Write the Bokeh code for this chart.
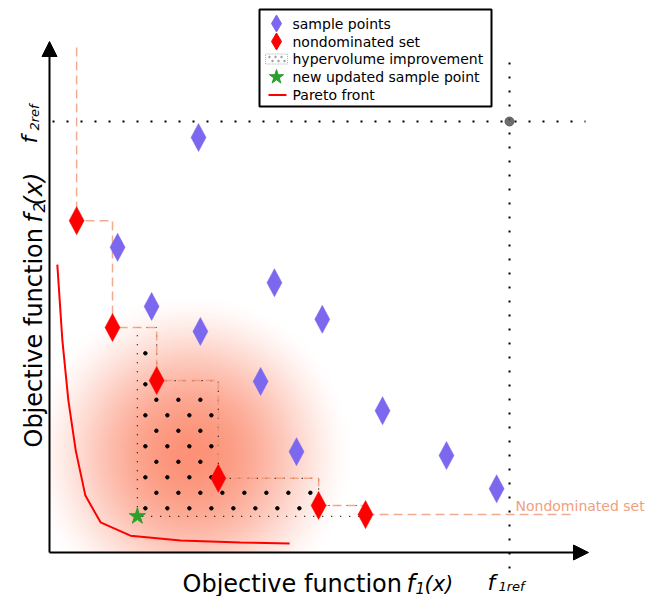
import math
import numpy as np
from bokeh.plotting import figure
from bokeh.models import Range1d, Label, Arrow, NormalHead
from bokeh.embed import file_html
from bokeh.resources import INLINE

# ---------------- data (schematic units: reference point f1ref = f2ref = 10) ----------------
sample_f1 = [3.24, 1.48, 2.22, 3.28, 4.89, 5.93, 4.59, 5.37, 7.24, 8.63, 9.72]
sample_f2 = [9.63, 7.08, 5.71, 5.13, 6.26, 5.41, 3.97, 2.34, 3.29, 2.25, 1.48]
nd_f1 = [0.59, 1.37, 2.33, 3.67, 5.85, 6.87]
nd_f2 = [7.70, 5.22, 3.99, 1.72, 1.09, 0.88]
new_f1 = [1.91]
new_f2 = [0.84]
pareto_f1 = [0.17, 0.28, 0.41, 0.57, 0.78, 1.11, 1.76, 2.85, 4.15, 5.22]
pareto_f2 = [6.68, 4.92, 3.53, 2.37, 1.32, 0.70, 0.39, 0.28, 0.23, 0.21]
f1_ref = 10.0
f2_ref = 10.0
glow_f1 = 3.08   # centre of the improvement-probability glow
glow_f2 = 2.25
legend_labels = ["sample points", "nondominated set", "hypervolume improvement",
                 "new updated sample point", "Pareto front"]

# ---------------- layout helpers (pixel -> data units) ----------------
SX, SY = 46.0, 43.1
def X(rx):
    return (rx - 49) / SX

def Y(ry):
    return (552 - ry) / SY

FONT = "DejaVu Sans"
SALMON = "#ef9676"

p = figure(width=656, height=596, x_range=Range1d(X(0), X(656)), y_range=Range1d(Y(596), Y(0)),
           x_axis_type=None, y_axis_type=None, toolbar_location=None, output_backend="svg",
           min_border=0)
p.grid.visible = False
p.outline_line_color = None

# ---------------- glow (radial gradient, clipped at the axes) ----------------
gw, gh = 380, 360                      # pixels covered by the gradient image
R = 165.0
PX, PY = np.meshgrid(np.arange(gw) + 0.5, np.arange(gh) + 0.5)
cx, cy = glow_f1 * SX, glow_f2 * SY
d = np.sqrt((PX - cx) ** 2 + (PY - cy) ** 2)
alpha = 0.7 * np.clip(1 - (d / R) ** 2, 0, 1) ** 1.8
img = np.zeros((gh, gw), dtype=np.uint32)
view = img.view(dtype=np.uint8).reshape((gh, gw, 4))
view[:, :, 0] = 250
view[:, :, 1] = 98
view[:, :, 2] = 60
view[:, :, 3] = np.clip(alpha * 255, 0, 255).astype(np.uint8)
p.image_rgba(image=[img], x=0, y=0, dw=gw / SX, dh=gh / SY)

# ---------------- Pareto front ----------------
p.line(pareto_f1, pareto_f2, line_color="red", line_width=2)

# ---------------- hypervolume improvement region ----------------
sx, sy = new_f1[0], new_f2[0]
prev_y = None
for xi, yi in zip(nd_f1, nd_f2):
    if xi <= sx:
        prev_y = yi
hv_x = [sx, sx]
hv_y = [sy, prev_y]
upper = [(sx, prev_y)]
for xi, yi in zip(nd_f1, nd_f2):
    if xi > sx:
        hv_x += [xi, xi]
        hv_y += [prev_y, yi]
        upper.append((xi, yi))
        prev_y = yi
hv_x.append(nd_f1[-1])
hv_y.append(sy)
p.patch(hv_x, hv_y, fill_alpha=0, line_color="black", line_width=1.2, line_dash="1 8")

# dotted hatch texture of the region (staggered dots)
def upper_at(x):
    u = None
    for ux, uy in upper:
        if x >= ux:
            u = uy
    return u

def hatch_dots(x0, y0, x1, ytop, dx, dy, pad):
    hx, hy = [], []
    row = 0
    yy = y0 + pad / SY
    while yy < ytop:
        xx = x0 + (pad + (dx / 2 if row % 2 else 0)) / SX
        while xx < x1 - pad / SX:
            ua, ub = upper_at(xx - 3 / SX), upper_at(xx + 5 / SX)
            if ua is not None and ub is not None and yy < min(ua, ub) - 5 / SY:
                hx.append(xx); hy.append(yy)
            xx += dx / SX
        yy += dy / SY
        row += 1
    return hx, hy

hx, hy = hatch_dots(sx, sy, nd_f1[-1], upper[0][1], 22, 15.5, 8)
p.scatter(hx, hy, size=3.5, color="black")

# ---------------- nondominated staircase ----------------
st_x = [nd_f1[0]]
st_y = [Y(47)]
for i in range(len(nd_f1)):
    st_x.append(nd_f1[i]); st_y.append(nd_f2[i])
    nx = nd_f1[i + 1] if i + 1 < len(nd_f1) else X(575)
    st_x.append(nx); st_y.append(nd_f2[i])
p.line(st_x, st_y, line_color=SALMON, line_alpha=0.8, line_width=1.5, line_dash="9 5")

# ---------------- reference lines ----------------
p.line([X(52), X(585)], [f2_ref, f2_ref], line_color="black", line_width=2, line_dash="2 12")
p.line([f1_ref, f1_ref], [Y(62), Y(580)], line_color="black", line_width=2, line_dash="2 12")
p.scatter([f1_ref], [f2_ref], size=9, color="#555555", alpha=0.85)

# ---------------- axes arrows ----------------
p.add_layout(Arrow(end=NormalHead(size=15, fill_color="black", line_color="black"),
                   x_start=X(49), y_start=Y(552), x_end=X(588), y_end=Y(552),
                   line_width=2, line_color="black"))
p.add_layout(Arrow(end=NormalHead(size=15, fill_color="black", line_color="black"),
                   x_start=X(49), y_start=Y(552), x_end=X(49), y_end=Y(41),
                   line_width=2, line_color="black"))

# ---------------- diamonds ----------------
def diamonds(xc, yc, hw_px, hh_px):
    hw, hh = hw_px / SX, hh_px / SY
    xs = [[x - hw, x, x + hw, x] for x in xc]
    ys = [[y, y + hh, y, y - hh] for y in yc]
    return xs, ys

xs, ys = diamonds(sample_f1, sample_f2, 7.5, 14)
p.patches(xs, ys, fill_color="#7b68ee", line_color="#7b68ee", line_width=0.5)
xs, ys = diamonds(nd_f1, nd_f2, 7.5, 14)
p.patches(xs, ys, fill_color="red", line_color="red", line_width=0.5)
p.scatter(new_f1, new_f2, marker="star", size=17, fill_color="#2ca02c", line_color="#2ca02c")

# ---------------- labels ----------------
def lab(text, rx, ry, size, style="normal", color="black", angle=0, baseline="alphabetic"):
    p.add_layout(Label(x=X(rx), y=Y(ry), text=text, text_font=FONT, text_font_size=f"{size}px",
                       text_font_style=style, text_color=color, angle=angle,
                       text_align="left", text_baseline=baseline))

lab("Objective function", 182, 583, 24)
lab("f", 406, 583, 24, "italic")
lab("1", 415, 587, 15, "italic")
lab("(x)", 424, 583, 21, "italic")

A = math.pi / 2
lab("Objective function", 33, 447, 24, angle=A)
lab("f", 33, 222, 24, "italic", angle=A)
lab("2", 38, 212, 16, "italic", angle=A)
lab("(x)", 33, 205, 24, "italic", angle=A)

lab("f", 29, 143, 22, "italic", angle=A)
lab("2ref", 34, 130, 13, "italic", angle=A)
lab("f", 487, 582, 22, "italic")
lab("1ref", 498, 586, 13, "italic")

lab("Nondominated set", 515, 505, 14, color="#f0a080", baseline="middle")

# ---------------- legend (drawn by hand) ----------------
p.quad(left=[X(259)], right=[X(491)], top=[Y(9)], bottom=[Y(106)],
       fill_color="white", line_color="black", line_width=2)
rows = [23, 41, 58.5, 76.5, 94.5]
gx = 276
xs, ys = diamonds([X(gx)], [Y(rows[0])], 5, 8.5)
p.patches(xs, ys, fill_color="#7b68ee", line_color="#7b68ee")
xs, ys = diamonds([X(gx)], [Y(rows[1])], 5, 8.5)
p.patches(xs, ys, fill_color="red", line_color="red")
p.quad(left=[X(265)], right=[X(287)], top=[Y(rows[2] - 5)], bottom=[Y(rows[2] + 5)],
       fill_color="white", line_color="#b0b0b0", line_width=1, line_dash="1 1")
lx = [X(269), X(275), X(281), X(272), X(278), X(284)]
ly = [Y(rows[2] - 2)] * 3 + [Y(rows[2] + 2)] * 3
p.scatter(lx, ly, size=1.6, color="#9a9a9a")
p.scatter([X(gx)], [Y(rows[3])], marker="star", size=15, fill_color="#2ca02c", line_color="#2ca02c")
p.line([X(268), X(286)], [Y(rows[4]), Y(rows[4])], line_color="red", line_width=2)
for t, r in zip(legend_labels, rows):
    lab(t, 292, r, 14, baseline="middle")

open("out.html", "w").write(file_html(p, INLINE))
